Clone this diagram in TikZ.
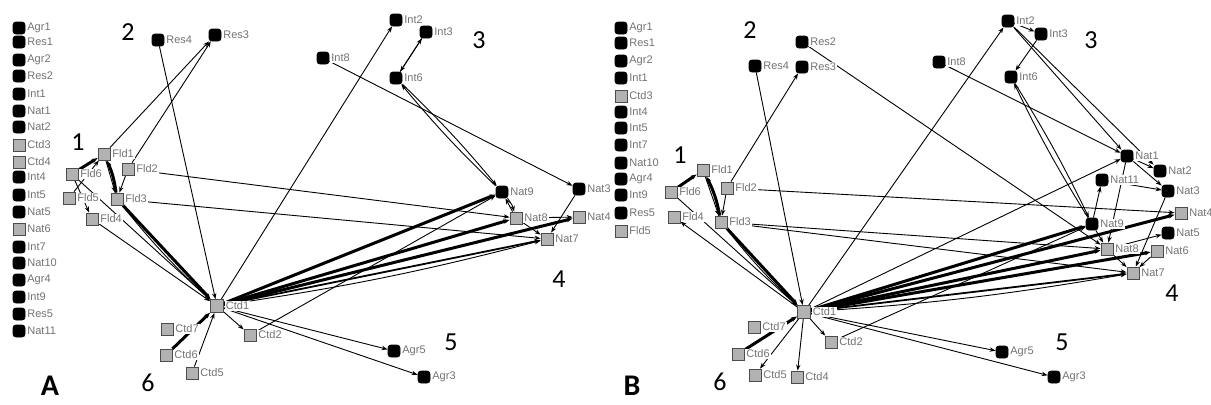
\documentclass[tikz,border=0pt]{standalone}
\usepackage{fontspec}
\setmainfont{Liberation Sans}
\newfontfamily\numfont{Carlito}
\usetikzlibrary{arrows.meta,backgrounds}

\begin{document}
\begin{tikzpicture}[
            x = 0.5pt, y = -0.5pt, % pixel grid of the screenshot
            > = {Stealth[length=3pt, width=2.2pt]}, % arrow head style
            blk/.style = {rectangle, draw = black, fill = black, rounded corners = 1.5pt, minimum size = 6pt, inner sep = 0pt},
            gry/.style = {rectangle, draw = black!70, fill = black!30, minimum size = 6pt, inner sep = 0pt},
            every label/.style = {font = \fontsize{5.5}{6}\selectfont, text = black!55, fill = white, inner sep = 0.5pt},
            label distance = 0.3pt,
            grp/.style = {font = \numfont\fontsize{13}{14}\selectfont},
            pan/.style = {font = \numfont\bfseries\fontsize{15}{16}\selectfont, inner sep = 0pt},
            lnk/.style = {->, line width = 0.45pt},
            mid/.style = {->, line width = 0.9pt},
            heavy/.style = {->, line width = 1.5pt}
        ]
        \useasboundingbox (0,0) rectangle (1211,404);

        % ---------------- A ----------------
        % Isolates
        \node[blk, label=right:Agr1] (aiAgr1) at (19,28) {};
        \node[blk, label=right:Res1] (aiRes1) at (19,42) {};
        \node[blk, label=right:Agr2] (aiAgr2) at (19,60) {};
        \node[blk, label=right:Res2] (aiRes2) at (19,76) {};
        \node[blk, label=right:Int1] (aiInt1) at (19,94) {};
        \node[blk, label=right:Nat1] (aiNat1) at (19,111) {};
        \node[blk, label=right:Nat2] (aiNat2) at (19,127) {};
        \node[gry, label=right:Ctd3] (aiCtd3) at (19,145) {};
        \node[gry, label=right:Ctd4] (aiCtd4) at (19,162) {};
        \node[blk, label=right:Int4] (aiInt4) at (19,177) {};
        \node[blk, label=right:Int5] (aiInt5) at (19,195) {};
        \node[blk, label=right:Nat5] (aiNat5) at (19,212) {};
        \node[gry, label=right:Nat6] (aiNat6) at (19,229) {};
        \node[blk, label=right:Int7] (aiInt7) at (19,247) {};
        \node[blk, label=right:Nat10] (aiNat10) at (19,263) {};
        \node[blk, label=right:Agr4] (aiAgr4) at (19,280) {};
        \node[blk, label=right:Int9] (aiInt9) at (19,297) {};
        \node[blk, label=right:Res5] (aiRes5) at (19,314) {};
        \node[blk, label=right:Nat11] (aiNat11) at (19,331) {};
        % Network
        \node[blk, label=right:Res4] (aRes4) at (158,40) {};
        \node[blk, label=right:Res3] (aRes3) at (215,35) {};
        \node[gry, label=right:Fld1] (aFld1) at (104,154) {};
        \node[gry, label=right:Fld6] (aFld6) at (72,174) {};
        \node[gry, label=right:Fld2] (aFld2) at (128,169) {};
        \node[gry, label=right:Fld5] (aFld5) at (69,198) {};
        \node[gry, label=right:Fld3] (aFld3) at (117,199) {};
        \node[gry, label=right:Fld4] (aFld4) at (92,219) {};
        \node[gry, minimum size = 6.5pt, label=right:Ctd1] (aCtd1) at (217,306) {};
        \node[gry, label=right:Ctd7] (aCtd7) at (167,329) {};
        \node[gry, label=right:Ctd6] (aCtd6) at (166,355) {};
        \node[gry, label=right:Ctd5] (aCtd5) at (192,373) {};
        \node[gry, label=right:Ctd2] (aCtd2) at (250,335) {};
        \node[blk, label=right:Int2] (aInt2) at (396,20) {};
        \node[blk, label=right:Int3] (aInt3) at (426,32) {};
        \node[blk, label=right:Int8] (aInt8) at (323,58) {};
        \node[blk, label=right:Int6] (aInt6) at (396,78) {};
        \node[blk, label=right:Nat9] (aNat9) at (502,192) {};
        \node[blk, label=right:Nat3] (aNat3) at (579,189) {};
        \node[gry, label=right:Nat8] (aNat8) at (516,218) {};
        \node[gry, label=right:Nat4] (aNat4) at (579,217) {};
        \node[gry, label=right:Nat7] (aNat7) at (547,239) {};
        \node[blk, label=right:Agr5] (aAgr5) at (394,351) {};
        \node[blk, label=right:Agr3] (aAgr3) at (424,377) {};
        % Groups
        \node[grp] (aG1) at (78,142) {1};
        \node[grp] (aG2) at (128,32) {2};
        \node[grp] (aG3) at (479,40) {3};
        \node[grp] (aG4) at (559,279) {4};
        \node[grp] (aG5) at (451,342) {5};
        \node[grp] (aG6) at (148,383) {6};
        \node[pan] (aPan) at (50,386) {A};

        % ---------------- B ----------------
        % Isolates
        \node[blk, label=right:Agr1] (biAgr1) at (621,28) {};
        \node[blk, label=right:Res1] (biRes1) at (621,43) {};
        \node[blk, label=right:Agr2] (biAgr2) at (621,61) {};
        \node[blk, label=right:Int1] (biInt1) at (621,78) {};
        \node[gry, label=right:Ctd3] (biCtd3) at (621,96) {};
        \node[blk, label=right:Int4] (biInt4) at (621,112) {};
        \node[blk, label=right:Int5] (biInt5) at (621,128) {};
        \node[blk, label=right:Int7] (biInt7) at (621,145) {};
        \node[blk, label=right:Nat10] (biNat10) at (621,163) {};
        \node[blk, label=right:Agr4] (biAgr4) at (621,179) {};
        \node[blk, label=right:Int9] (biInt9) at (621,195) {};
        \node[blk, label=right:Res5] (biRes5) at (621,213) {};
        \node[gry, label=right:Fld5] (biFld5) at (621,231) {};
        % Network
        \node[blk, label=right:Res2] (bRes2) at (802,42) {};
        \node[blk, label=right:Res4] (bRes4) at (755,66) {};
        \node[blk, label=right:Res3] (bRes3) at (802,67) {};
        \node[gry, label=right:Fld1] (bFld1) at (703,170) {};
        \node[gry, label=right:Fld6] (bFld6) at (671,192) {};
        \node[gry, label=right:Fld2] (bFld2) at (727,188) {};
        \node[gry, label=right:Fld4] (bFld4) at (674,217) {};
        \node[gry, label=right:Fld3] (bFld3) at (721,222) {};
        \node[gry, minimum size = 6.5pt, label=right:Ctd1] (bCtd1) at (804,312) {};
        \node[gry, label=right:Ctd7] (bCtd7) at (754,327) {};
        \node[gry, label=right:Ctd6] (bCtd6) at (738,354) {};
        \node[gry, label=right:Ctd5] (bCtd5) at (755,375) {};
        \node[gry, label=right:Ctd4] (bCtd4) at (797,377) {};
        \node[gry, label=right:Ctd2] (bCtd2) at (831,342) {};
        \node[blk, label=right:Int2] (bInt2) at (1008,21) {};
        \node[blk, label=right:Int3] (bInt3) at (1041,34) {};
        \node[blk, label=right:Int8] (bInt8) at (939,62) {};
        \node[blk, label=right:Int6] (bInt6) at (1011,77) {};
        \node[blk, label=right:Nat1] (bNat1) at (1127,156) {};
        \node[blk, label=right:Nat2] (bNat2) at (1160,171) {};
        \node[blk, label=right:Nat11] (bNat11) at (1102,180) {};
        \node[blk, label=right:Nat3] (bNat3) at (1168,191) {};
        \node[gry, label=right:Nat4] (bNat4) at (1181,213) {};
        \node[blk, label=right:Nat9] (bNat9) at (1092,224) {};
        \node[blk, label=right:Nat5] (bNat5) at (1168,233) {};
        \node[gry, label=right:Nat8] (bNat8) at (1107,249) {};
        \node[gry, label=right:Nat6] (bNat6) at (1157,251) {};
        \node[gry, label=right:Nat7] (bNat7) at (1133,273) {};
        \node[blk, label=right:Agr5] (bAgr5) at (1002,352) {};
        \node[blk, label=right:Agr3] (bAgr3) at (1054,377) {};
        % Groups
        \node[grp] (bG1) at (680,155) {1};
        \node[grp] (bG2) at (750,30) {2};
        \node[grp] (bG3) at (1091,40) {3};
        \node[grp] (bG4) at (1172,293) {4};
        \node[grp] (bG5) at (1062,342) {5};
        \node[grp] (bG6) at (720,382) {6};
        \node[pan] (bPan) at (632,386) {B};

        \begin{scope}[on background layer]
        % Ties A
        \path[lnk] (aFld1) edge (aRes3);
        \path[lnk] (aFld2) edge (aRes3);
        \path[lnk] (aRes4) edge (aCtd1);
        \path[lnk] (aCtd1) edge (aInt2);
        \path[lnk] (aInt6) edge (aInt3);
        \path[lnk] (aInt3) edge (aInt6);
        \path[lnk] (aInt6) edge[bend left=3] (aNat9);
        \path[lnk] (aNat9) edge[bend left=3] (aInt6);
        \path[lnk] (aInt8) edge (aNat3);
        \path[lnk] (aFld2) edge (aNat8);
        \path[lnk] (aFld3) edge (aNat7);
        \path[heavy] (aCtd1) edge (aNat9);
        \path[heavy] (aCtd1) edge (aNat8);
        \path[heavy] (aCtd1) edge (aNat4);
        \path[mid] (aCtd1) edge (aNat7);
        \path[lnk] (aCtd1) edge[bend right=3] (aNat7);
        \path[lnk] (aCtd2) edge (aNat9);
        \path[lnk] (aCtd1) edge (aAgr5);
        \path[lnk] (aCtd1) edge (aAgr3);
        \path[lnk] (aNat3) edge (aNat7);
        \path[lnk] (aNat9) edge[bend left=12] (aNat8);
        \path[lnk] (aNat8) edge (aNat9);
        \path[lnk] (aNat8) edge (aNat4);
        \path[lnk] (aNat8) edge (aNat7);
        \path[heavy] (aFld6) edge (aFld1);
        \path[heavy] (aFld3) edge[bend right=8] (aFld1);
        \path[lnk] (aFld1) edge (aFld3);
        \path[lnk] (aFld2) edge (aFld3);
        \path[lnk] (aFld6) edge (aFld4);
        \path[lnk] (aFld5) edge (aFld1);
        \path[lnk] (aFld6) edge (aCtd1);
        \path[lnk] (aFld4) edge (aCtd1);
        \path[heavy] (aFld3) edge (aCtd1);
        \path[lnk] (aFld3) edge[bend right=4] (aCtd1);
        \path[heavy] (aCtd6) edge (aCtd1);
        \path[lnk] (aCtd5) edge (aCtd1);
        \path[lnk] (aCtd1) edge (aCtd2);
        % Ties B
        \path[lnk] (bFld2) edge (bRes3);
        \path[lnk] (bRes4) edge (bCtd1);
        \path[lnk] (bRes2) edge (bNat8);
        \path[lnk] (bCtd1) edge (bInt2);
        \path[lnk] (bInt2) edge (bInt3);
        \path[lnk] (bInt3) edge (bInt6);
        \path[lnk] (bInt2) edge (bNat1);
        \path[lnk] (bInt2) edge (bNat2);
        \path[lnk] (bInt6) edge[bend left=3] (bNat9);
        \path[lnk] (bNat9) edge[bend left=3] (bInt6);
        \path[lnk] (bInt8) edge (bNat1);
        \path[lnk] (bCtd1) edge (bNat1);
        \path[lnk] (bNat9) edge (bNat11);
        \path[lnk] (bNat1) edge (bNat8);
        \path[lnk] (bNat1) edge (bNat3);
        \path[lnk] (bNat11) edge (bNat3);
        \path[lnk] (bNat1) edge (bNat2);
        \path[lnk] (bNat3) edge (bNat7);
        \path[lnk] (bFld2) edge (bNat4);
        \path[lnk] (bFld3) edge (bNat7);
        \path[lnk] (bFld3) edge (bNat8);
        \path[heavy] (bCtd1) edge (bNat9);
        \path[heavy] (bCtd1) edge (bNat8);
        \path[heavy] (bCtd1) edge (bNat4);
        \path[heavy] (bCtd1) edge (bNat6);
        \path[mid] (bCtd1) edge (bNat7);
        \path[lnk] (bCtd1) edge[bend right=3] (bNat7);
        \path[lnk] (bCtd2) edge (bNat9);
        \path[lnk] (bCtd1) edge (bAgr5);
        \path[lnk] (bCtd1) edge (bAgr3);
        \path[lnk] (bNat9) edge (bNat8);
        \path[lnk] (bNat8) edge (bNat7);
        \path[lnk] (bNat6) edge (bNat7);
        \path[lnk] (bNat8) edge (bNat5);
        \path[heavy] (bFld6) edge (bFld1);
        \path[heavy] (bFld3) edge[bend right=8] (bFld1);
        \path[lnk] (bFld1) edge (bFld3);
        \path[lnk] (bFld2) edge (bFld3);
        \path[lnk] (bFld6) edge (bCtd1);
        \path[lnk] (bCtd1) edge (bFld4);
        \path[heavy] (bFld3) edge (bCtd1);
        \path[lnk] (bFld3) edge[bend right=4] (bCtd1);
        \path[heavy] (bCtd6) edge (bCtd1);
        \path[lnk] (bCtd1) edge (bCtd5);
        \path[lnk] (bCtd1) edge (bCtd4);
        \path[lnk] (bCtd1) edge (bCtd2);
        \end{scope}
      \end{tikzpicture}
\end{document}
